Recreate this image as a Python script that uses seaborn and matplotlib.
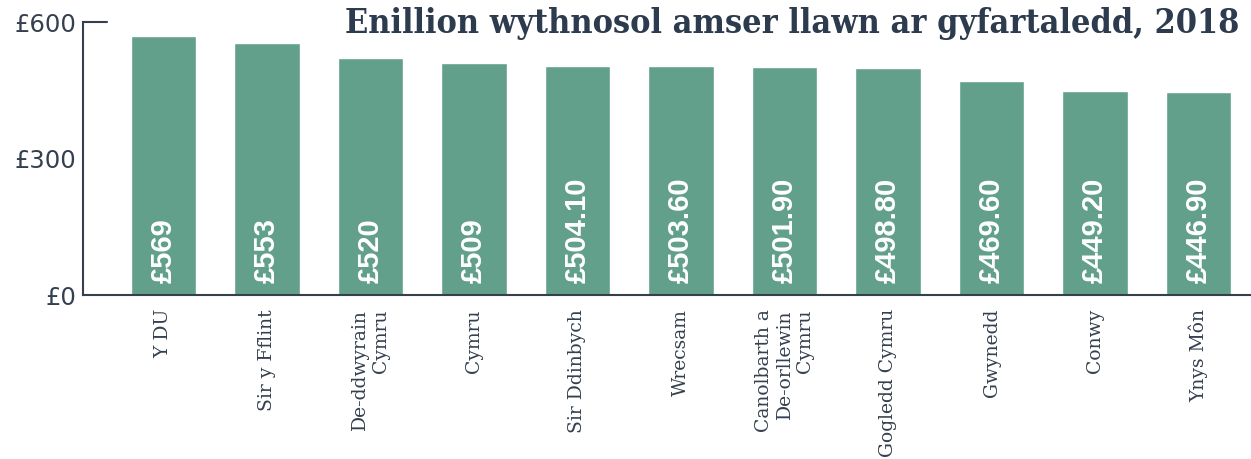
import matplotlib
matplotlib.use("Agg")
import matplotlib.pyplot as plt
import seaborn as sns
import pandas as pd

# Data
regions = ["Y DU", "Sir y Fflint", "De-ddwyrain\nCymru", "Cymru", "Sir Ddinbych",
           "Wrecsam", "Canolbarth a\nDe-orllewin\nCymru", "Gogledd Cymru",
           "Gwynedd", "Conwy", "Ynys Môn"]
earnings = [569, 553, 520, 509, 504.10, 503.60, 501.90, 498.80, 469.60, 449.20, 446.90]
value_labels = ["£569", "£553", "£520", "£509", "£504.10", "£503.60", "£501.90",
                "£498.80", "£469.60", "£449.20", "£446.90"]
y_ticks = [0, 300, 600]
y_tick_labels = ["£0", "£300", "£600"]
title = "Enillion wythnosol amser llawn ar gyfartaledd, 2018"

bar_color = "#62a08b"
dark = "#34404f"

sns.set_theme(style="white")
plt.rcParams['font.family'] = ['DejaVu Sans']

df = pd.DataFrame({"region": regions, "earnings": earnings})

fig = plt.figure(figsize=(12.51, 4.59), dpi=100)
ax = fig.add_axes([0.0663, 0.357, 0.9337, 0.595])

sns.barplot(data=df, x="region", y="earnings", color=bar_color, saturation=1,
            width=0.63, ax=ax)

ax.set_xlim(-0.778, 10.507)
ax.set_ylim(0, 600)

# value labels inside bars
for i, lab in enumerate(value_labels):
    ax.text(i, 26, lab, rotation=90, ha="center", va="bottom", color="white",
            fontsize=21, fontweight="bold", family=["Liberation Sans", "DejaVu Sans"])

ax.set_yticks(y_ticks)
ax.set_yticklabels(y_tick_labels, fontsize=17.5, color=dark)
ax.set_xticks(range(len(regions)))
ax.set_xticklabels(regions, rotation=90, va="top", ha="center", multialignment="right",
                   fontsize=13.5, color=dark, family=["DejaVu Serif"])
ax.tick_params(axis="x", length=0, pad=10)
ax.tick_params(axis="y", length=0, pad=5)
ax.set_xlabel("")
ax.set_ylabel("")

sns.despine(ax=ax)
for side in ["left", "bottom"]:
    ax.spines[side].set_color(dark)
    ax.spines[side].set_linewidth(1.5)

# short top stub at £600
ax.axhline(600, xmin=0, xmax=0.021, color=dark, linewidth=1.5, clip_on=False)

fig.text(0.991, 0.948, title, ha="right", va="center", fontsize=24.5,
         fontweight="heavy", color="#2d3b4e", family=["DejaVu Serif"],
         fontstretch="condensed")

fig.savefig("out.png", dpi=100)
